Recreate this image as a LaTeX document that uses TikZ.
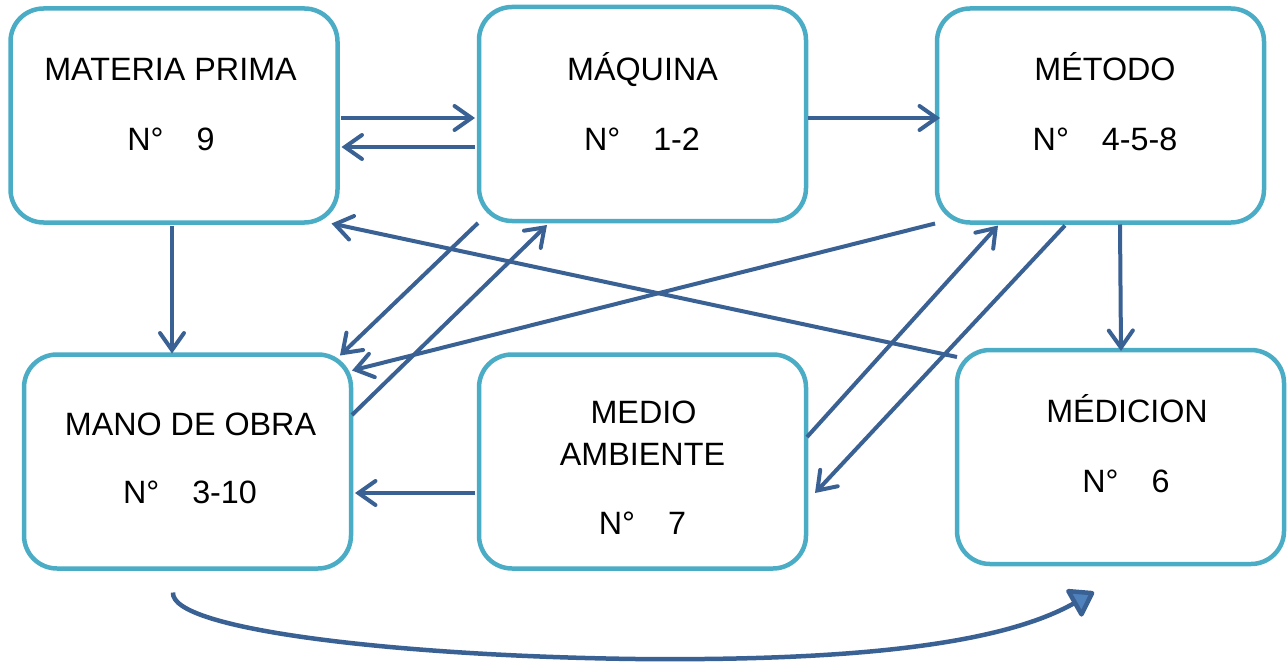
\documentclass[tikz,border=0pt]{standalone}
\usepackage{fontspec}
\setmainfont{Liberation Sans}
\usetikzlibrary{arrows.meta,calc}
\definecolor{boxline}{HTML}{4BACC6}
\definecolor{flow}{HTML}{3A6194}
\definecolor{headfill}{HTML}{4F81BD}
\newcommand{\numtag}[1]{N°\hspace{33pt}#1}
\begin{document}
\begin{tikzpicture}[x=1pt,y=-1pt,
  stage/.style={draw=boxline, line width=4.5pt, rounded corners=33pt, rectangle,
    minimum width=327pt, minimum height=214pt, inner sep=0pt, outer sep=0pt, fill=white},
  caption/.style={font=\fontsize{32.3}{42}\selectfont, anchor=base, inner sep=0pt},
  link/.style={draw=flow, line width=4pt,
    -{Straight Barb[length=17pt,width=24pt,line cap=round]}},
  loop/.style={draw=flow, line width=4.5pt,
    -{Triangle[length=26pt,width=34pt,fill=headfill,line join=round]}},
]
\useasboundingbox (0,0) rectangle (1287,661);

% the six factors
\node[stage] (mp) at (174,115.5) {};
\node[stage] (mq) at (642.5,114) {};
\node[stage] (me) at (1100.5,115.5) {};
\node[stage] (mo) at (187.5,461.5) {};
\node[stage] (ma) at (642.5,461.5) {};
\node[stage] (md) at (1120.5,457) {};

% captions
\node[caption] (mpT) at (170.5,81) {MATERIA PRIMA};
\node[caption] (mpN) at (171,150) {\numtag{9}};
\node[caption] (mqT) at (642.5,81) {MÁQUINA};
\node[caption] (mqN) at (642,150) {\numtag{1-2}};
\node[caption] (meT) at (1105,81) {MÉTODO};
\node[caption] (meN) at (1105,150) {\numtag{4-5-8}};
\node[caption] (moT) at (190.5,435) {MANO DE OBRA};
\node[caption] (moN) at (190,503) {\numtag{3-10}};
\node[caption] (maT1) at (643.5,423) {MEDIO};
\node[caption] (maT2) at (642.5,465) {AMBIENTE};
\node[caption] (maN) at (642.5,534) {\numtag{7}};
\node[caption] (mdT) at (1127,422) {MÉDICION};
\node[caption] (mdN) at (1126,492) {\numtag{6}};

% straight links
\draw[link] ($(mp.east)+(3,2.5)$) -- ($(mq.west)+(-4,4)$);
\draw[link] ($(mq.west)+(-4,33)$) -- ($(mp.east)+(4,31.5)$);
\draw[link] ($(mq.east)+(2,4)$) -- ($(me.west)+(3,2.5)$);
\draw[link] ($(mp.south)+(-2,3)$) -- ($(mo.north)+(-15.5,-1)$);
\draw[link] ($(me.south)+(19.5,2)$) -- ($(md.north)+(0.5,1)$);
\draw[link] ($(ma.west)+(-4,31.5)$) -- ($(mo.east)+(4,31.5)$);
\draw[link] ($(md.north west)+(0,7)$) -- ($(mp.south east)+(-6,1)$);
\draw[link] ($(mq.south west)+(-1,2)$) -- ($(mo.north east)+(-11,1)$);
\draw[link] ($(mo.east)+(1,-46.5)$) -- ($(mq.south west)+(68,4)$);
\draw[link] ($(me.south west)+(-2,1)$) -- ($(mo.north east)+(1,16)$);
\draw[link] ($(ma.east)+(1,-24.5)$) -- ($(me.south west)+(61,3)$);
\draw[link] ($(me.south west)+(128,3)$) -- ($(ma.east)+(9,31.5)$);

% sweeping return from labour to measurement
\coordinate (loopA) at ($(mo.south)+(-14.5,24)$);
\coordinate (loopB) at (636,659);
\coordinate (loopC) at ($(md.south)+(-26.5,28)$);
\draw[loop] (loopA) .. controls (170,630) and (400,656) .. (loopB)
  .. controls (850,661) and (1000,645) .. (loopC);
\end{tikzpicture}
\end{document}
